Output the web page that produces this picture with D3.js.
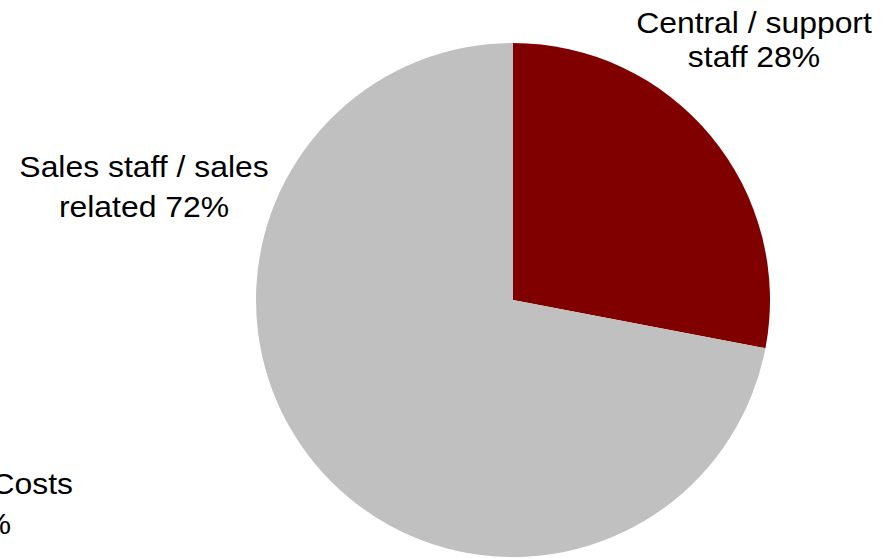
<!DOCTYPE html>
<html>
<head>
<meta charset="utf-8">
<script src="https://cdn.jsdelivr.net/npm/d3@7"></script>
<style>
  html, body { margin: 0; padding: 0; background: #fff; }
  svg { display: block; }
  text { font-family: "Liberation Sans", Arial, sans-serif; fill: #000; }
</style>
</head>
<body>
<svg id="chart" width="892" height="558"></svg>
<script>
// Cost split by staff group
const categories = ["Central / support staff", "Sales staff / sales related", "Other Costs"];
const shares = [28, 72, 0];
const labelLines = [
  ["Central / support", "staff 28%"],
  ["Sales staff / sales", "related 72%"],
  ["Other Costs", "0%"]
];
const colors = ["#800000", "#c0c0c0", "#7f7f7f"];

const width = 892, height = 558;
const cx = 513, cy = 300, radius = 257;

const svg = d3.select("#chart");

const data = categories.map((c, i) => ({ name: c, value: shares[i], lines: labelLines[i], color: colors[i] }));

const pie = d3.pie().value(d => d.value).sort(null);
const arc = d3.arc().innerRadius(0).outerRadius(radius);

const g = svg.append("g").attr("transform", `translate(${cx},${cy})`);

g.selectAll("path")
  .data(pie(data).filter(d => d.data.value > 0))
  .join("path")
  .attr("d", arc)
  .attr("fill", d => d.data.color);

// Label block centre x and baseline of each line
const labelPos = [
  { x: 754, ys: [33, 67] },
  { x: 144, ys: [177, 217] },
  { x: -12, ys: [494, 534] }
];
const fontSize = 29, stretch = 1.1;

const labels = svg.append("g");
data.forEach((d, i) => {
  d.lines.forEach((line, j) => {
    labels.append("text")
      .attr("transform", `translate(${labelPos[i].x},${labelPos[i].ys[j]}) scale(${stretch},1)`)
      .attr("text-anchor", "middle")
      .style("font-size", fontSize + "px")
      .text(line);
  });
});
</script>
</body>
</html>
